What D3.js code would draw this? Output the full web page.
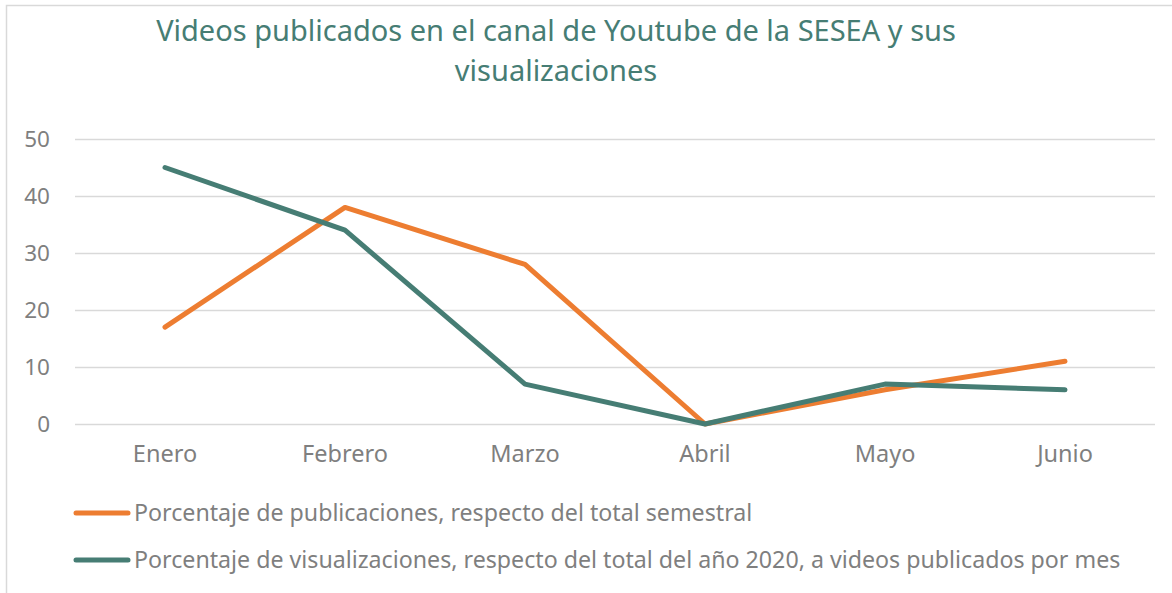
<!DOCTYPE html>
<html>
<head>
<meta charset="utf-8">
<script src="https://cdn.jsdelivr.net/npm/d3@7"></script>
<style>
  body { margin: 0; background: #fff; }
  svg { display: block; font-family: "Noto Sans", Lato, sans-serif; }
</style>
</head>
<body>
<svg width="1172" height="593"></svg>
<script>
const months = ["Enero", "Febrero", "Marzo", "Abril", "Mayo", "Junio"];
const publicaciones = [17, 38, 28, 0, 6, 11];
const visualizaciones = [45, 34, 7, 0, 7, 6];
const yTicks = [0, 10, 20, 30, 40, 50];
const seriesNames = [
	"Porcentaje de publicaciones, respecto del total semestral",
	"Porcentaje de visualizaciones, respecto del total del año 2020, a videos publicados por mes"
];
const seriesColors = ["#ed7d31", "#467d74"];
const titleLines = ["Videos publicados en el canal de Youtube de la SESEA y sus", "visualizaciones"];

const margin = { top: 139, right: 17, bottom: 169, left: 75 };
const width = 1172 - margin.left - margin.right;
const height = 593 - margin.top - margin.bottom;
const font = "'Noto Sans', Lato, sans-serif";

const svg = d3.select("svg");

// chart frame
svg.append("rect")
	.attr("x", 6.5).attr("y", 5.5)
	.attr("width", 1180).attr("height", 600)
	.attr("fill", "none")
	.attr("stroke", "#d9d9d9")
	.attr("stroke-width", 1.5);

// title
svg.append("g").selectAll("text")
	.data(titleLines)
	.join("text")
	.attr("x", 556)
	.attr("y", (d, i) => 41 + i * 40)
	.attr("text-anchor", "middle")
	.attr("fill", "#467d74")
	.style("font-size", "29px")
	.text(d => d);

const g = svg.append("g")
	.attr("transform", "translate(" + margin.left + "," + margin.top + ")");

const x = d3.scaleBand().domain(months).range([0, width]);
const y = d3.scaleLinear().domain([0, 50]).range([height, 0]);

// gridlines + y labels
const yAxis = g.append("g")
	.call(d3.axisLeft(y).tickValues(yTicks).tickSize(-width).tickPadding(25).tickFormat(d3.format("d")));
yAxis.select(".domain").remove();
yAxis.selectAll(".tick line").attr("stroke", "#d9d9d9").attr("stroke-width", 1.5);
yAxis.selectAll(".tick text")
	.attr("fill", "#7f7f7f")
	.style("font-size", "22.5px")
	.style("font-family", font);

// x labels
const xAxis = g.append("g")
	.attr("transform", "translate(0," + height + ")")
	.call(d3.axisBottom(x).tickSize(0).tickPadding(21));
xAxis.select(".domain").remove();
xAxis.selectAll(".tick text")
	.attr("fill", "#7f7f7f")
	.style("font-size", "23.5px")
	.style("font-family", font);

// lines
const line = d3.line()
	.x((d, i) => x(months[i]) + x.bandwidth() / 2)
	.y(d => y(d));

[publicaciones, visualizaciones].forEach((vals, k) => {
	g.append("path")
		.datum(vals)
		.attr("fill", "none")
		.attr("stroke", seriesColors[k])
		.attr("stroke-width", 5)
		.attr("stroke-linejoin", "round")
		.attr("stroke-linecap", "round")
		.attr("d", line);
});

// legend
const legend = svg.append("g");
seriesNames.forEach((name, k) => {
	const ly = 513 + k * 47;
	legend.append("line")
		.attr("x1", 76).attr("x2", 128)
		.attr("y1", ly).attr("y2", ly)
		.attr("stroke", seriesColors[k])
		.attr("stroke-width", 5)
		.attr("stroke-linecap", "round");
	legend.append("text")
		.attr("x", 134)
		.attr("y", ly)
		.attr("dy", "0.35em")
		.attr("fill", "#7f7f7f")
		.style("font-size", "23.2px")
		.text(name);
});
</script>
</body>
</html>
